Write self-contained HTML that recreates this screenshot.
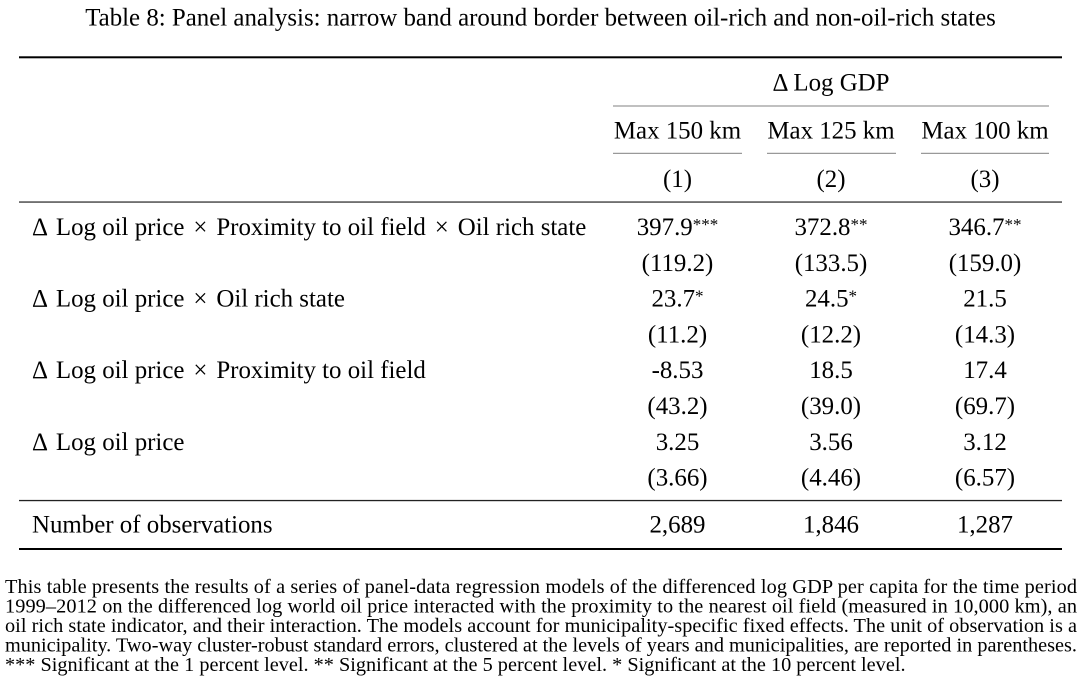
<!DOCTYPE html>
<html>
<head>
<meta charset="utf-8">
<style>
  html, body { margin: 0; padding: 0; background: #ffffff; }
  body { width: 1084px; height: 687px; overflow: hidden; }
  svg { display: block; }
  text { font-family: "Liberation Serif", "DejaVu Serif", serif; fill: #000; }
  .b { font-size: 24.9px; }
  .f { font-size: 20.3px; }
  .s { font-size: 17px; }
</style>
</head>
<body>
<svg width="1084" height="687" viewBox="0 0 1084 687" xmlns="http://www.w3.org/2000/svg">
  <!-- Title -->
  <text class="b" x="540.5" y="25.5" text-anchor="middle">Table 8: Panel analysis: narrow band around border between oil-rich and non-oil-rich states</text>

  <!-- Top rule -->
  <rect x="19" y="56.3" width="1043" height="2" fill="#000"/>

  <!-- Header -->
  <text class="b" x="831" y="90.7" text-anchor="middle">Δ Log GDP</text>
  <rect x="613" y="105.5" width="436" height="1" fill="#808080"/>

  <text class="b" x="677.5" y="138.3" text-anchor="middle">Max 150 km</text>
  <text class="b" x="831" y="138.3" text-anchor="middle">Max 125 km</text>
  <text class="b" x="985" y="138.3" text-anchor="middle">Max 100 km</text>
  <rect x="613" y="152.8" width="129" height="1" fill="#808080"/>
  <rect x="767" y="152.8" width="129" height="1" fill="#808080"/>
  <rect x="921" y="152.8" width="128" height="1" fill="#808080"/>

  <text class="b" x="677.5" y="187" text-anchor="middle">(1)</text>
  <text class="b" x="831" y="187" text-anchor="middle">(2)</text>
  <text class="b" x="985" y="187" text-anchor="middle">(3)</text>

  <!-- Midrule -->
  <rect x="19" y="201.4" width="1043" height="1.3" fill="#333"/>

  <!-- Row 1 -->
  <text class="b" x="32" y="235">Δ <tspan dx="3">Log</tspan> oil price <tspan dx="2.7">×</tspan> <tspan dx="2.7">Proximity</tspan> to oil field <tspan dx="2.7">×</tspan> <tspan dx="2.7">Oil</tspan> rich state</text>
  <text class="b" x="677.5" y="235" text-anchor="middle">397.9<tspan class="s" dy="-5">***</tspan></text>
  <text class="b" x="831" y="235" text-anchor="middle">372.8<tspan class="s" dy="-5">**</tspan></text>
  <text class="b" x="985" y="235" text-anchor="middle">346.7<tspan class="s" dy="-5">**</tspan></text>
  <text class="b" x="677.5" y="270.8" text-anchor="middle">(119.2)</text>
  <text class="b" x="831" y="270.8" text-anchor="middle">(133.5)</text>
  <text class="b" x="985" y="270.8" text-anchor="middle">(159.0)</text>

  <!-- Row 2 -->
  <text class="b" x="32" y="306.6">Δ <tspan dx="3">Log</tspan> oil price <tspan dx="2.7">×</tspan> <tspan dx="2.7">Oil</tspan> rich state</text>
  <text class="b" x="677.5" y="306.6" text-anchor="middle">23.7<tspan class="s" dy="-5">*</tspan></text>
  <text class="b" x="831" y="306.6" text-anchor="middle">24.5<tspan class="s" dy="-5">*</tspan></text>
  <text class="b" x="985" y="306.6" text-anchor="middle">21.5</text>
  <text class="b" x="677.5" y="342.4" text-anchor="middle">(11.2)</text>
  <text class="b" x="831" y="342.4" text-anchor="middle">(12.2)</text>
  <text class="b" x="985" y="342.4" text-anchor="middle">(14.3)</text>

  <!-- Row 3 -->
  <text class="b" x="32" y="378.2">Δ <tspan dx="3">Log</tspan> oil price <tspan dx="2.7">×</tspan> <tspan dx="2.7">Proximity</tspan> to oil field</text>
  <text class="b" x="677.5" y="378.2" text-anchor="middle">-8.53</text>
  <text class="b" x="831" y="378.2" text-anchor="middle">18.5</text>
  <text class="b" x="985" y="378.2" text-anchor="middle">17.4</text>
  <text class="b" x="677.5" y="414" text-anchor="middle">(43.2)</text>
  <text class="b" x="831" y="414" text-anchor="middle">(39.0)</text>
  <text class="b" x="985" y="414" text-anchor="middle">(69.7)</text>

  <!-- Row 4 -->
  <text class="b" x="32" y="449.8">Δ <tspan dx="3">Log</tspan> oil price</text>
  <text class="b" x="677.5" y="449.8" text-anchor="middle">3.25</text>
  <text class="b" x="831" y="449.8" text-anchor="middle">3.56</text>
  <text class="b" x="985" y="449.8" text-anchor="middle">3.12</text>
  <text class="b" x="677.5" y="485.6" text-anchor="middle">(3.66)</text>
  <text class="b" x="831" y="485.6" text-anchor="middle">(4.46)</text>
  <text class="b" x="985" y="485.6" text-anchor="middle">(6.57)</text>

  <!-- Midrule -->
  <rect x="19" y="499.9" width="1043" height="1.3" fill="#222"/>

  <!-- Observations -->
  <text class="b" x="32" y="532.5">Number of observations</text>
  <text class="b" x="677.5" y="532.5" text-anchor="middle">2,689</text>
  <text class="b" x="831" y="532.5" text-anchor="middle">1,846</text>
  <text class="b" x="985" y="532.5" text-anchor="middle">1,287</text>

  <!-- Bottom rule -->
  <rect x="19" y="548" width="1043" height="2" fill="#000"/>

  <!-- Footnote -->
  <text class="f" x="5" y="593" textLength="1072" lengthAdjust="spacing">This table presents the results of a series of panel-data regression models of the differenced log GDP per capita for the time period</text>
  <text class="f" x="5" y="612.5" textLength="1072" lengthAdjust="spacing">1999–2012 on the differenced log world oil price interacted with the proximity to the nearest oil field (measured in 10,000 km), an</text>
  <text class="f" x="5" y="632" textLength="1072" lengthAdjust="spacing">oil rich state indicator, and their interaction. The models account for municipality-specific fixed effects. The unit of observation is a</text>
  <text class="f" x="5" y="651.5" textLength="1072" lengthAdjust="spacing">municipality. Two-way cluster-robust standard errors, clustered at the levels of years and municipalities, are reported in parentheses.</text>
  <text class="f" x="5" y="671">*** Significant at the 1 percent level. ** Significant at the 5 percent level. * Significant at the 10 percent level.</text>
</svg>
</body>
</html>
